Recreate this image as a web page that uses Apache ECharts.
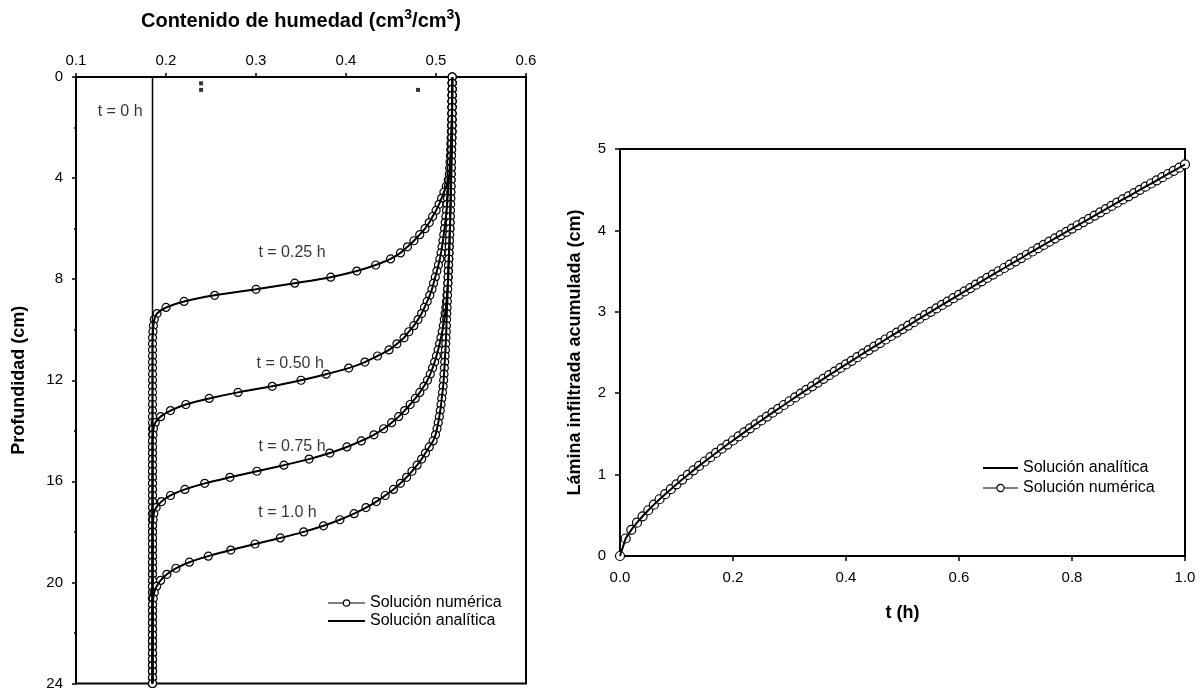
<!DOCTYPE html>
<html>
<head>
<meta charset="utf-8">
<script src="https://cdn.jsdelivr.net/npm/echarts@6/dist/echarts.min.js"></script>
<style>
html, body { margin: 0; padding: 0; background: #fff; }
#chart { width: 1204px; height: 691px; }
</style>
</head>
<body>
<div id="chart"></div>
<script>
// profundidad de los nodos (cm)
const depthCm = [
  0, 0.24, 0.48, 0.72, 0.96, 1.2, 1.44, 1.68, 1.92, 2.16,
  2.4, 2.64, 2.88, 3.12, 3.36, 3.6, 3.84, 4.08, 4.32, 4.56,
  4.8, 5.04, 5.28, 5.52, 5.76, 6, 6.24, 6.48, 6.72, 6.96,
  7.2, 7.44, 7.68, 7.92, 8.16, 8.4, 8.64, 8.88, 9.12, 9.36,
  9.6, 9.84, 10.08, 10.32, 10.56, 10.8, 11.04, 11.28, 11.52, 11.76,
  12, 12.24, 12.48, 12.72, 12.96, 13.2, 13.44, 13.68, 13.92, 14.16,
  14.4, 14.64, 14.88, 15.12, 15.36, 15.6, 15.84, 16.08, 16.32, 16.56,
  16.8, 17.04, 17.28, 17.52, 17.76, 18, 18.24, 18.48, 18.72, 18.96,
  19.2, 19.44, 19.68, 19.92, 20.16, 20.4, 20.64, 20.88, 21.12, 21.36,
  21.6, 21.84, 22.08, 22.32, 22.56, 22.8, 23.04, 23.28, 23.52, 23.76,
  24
];

// contenido de humedad (cm3/cm3) en cada nodo
const thetaT025 = [
  0.518, 0.518, 0.518, 0.518, 0.518, 0.518, 0.518, 0.518, 0.518, 0.518,
  0.5177, 0.5175, 0.5173, 0.5171, 0.5169, 0.5166, 0.5155, 0.5137, 0.5115, 0.5088,
  0.5062, 0.5034, 0.5001, 0.4962, 0.4925, 0.4878, 0.4819, 0.4755, 0.4683, 0.4605,
  0.4495, 0.433, 0.412, 0.383, 0.343, 0.300, 0.254, 0.220, 0.200, 0.190,
  0.187, 0.186, 0.1855, 0.185, 0.185, 0.185, 0.185, 0.185, 0.185, 0.185,
  0.185, 0.185, 0.185, 0.185, 0.185, 0.185, 0.185, 0.185, 0.185, 0.185,
  0.185, 0.185, 0.185, 0.185, 0.185, 0.185, 0.185, 0.185, 0.185, 0.185,
  0.185, 0.185, 0.185, 0.185, 0.185, 0.185, 0.185, 0.185, 0.185, 0.185,
  0.185, 0.185, 0.185, 0.185, 0.185, 0.185, 0.185, 0.185, 0.185, 0.185,
  0.185, 0.185, 0.185, 0.185, 0.185, 0.185, 0.185, 0.185, 0.185, 0.185,
  0.185
];
const thetaT050 = [
  0.518, 0.518, 0.518, 0.5179, 0.5178, 0.5177, 0.5176, 0.5175, 0.5173, 0.5171,
  0.5168, 0.5165, 0.5163, 0.516, 0.5156, 0.5152, 0.5148, 0.5143, 0.5138, 0.5133,
  0.5128, 0.5124, 0.5117, 0.511, 0.5102, 0.5095, 0.5086, 0.5077, 0.5067, 0.5056,
  0.5043, 0.5027, 0.501, 0.4992, 0.4973, 0.4955, 0.4931, 0.4902, 0.4872, 0.484,
  0.48, 0.4754, 0.4698, 0.4645, 0.4566, 0.4478, 0.435, 0.421, 0.403, 0.378,
  0.35, 0.318, 0.28, 0.248, 0.222, 0.205, 0.194, 0.188, 0.186, 0.1855,
  0.185, 0.185, 0.185, 0.185, 0.185, 0.185, 0.185, 0.185, 0.185, 0.185,
  0.185, 0.185, 0.185, 0.185, 0.185, 0.185, 0.185, 0.185, 0.185, 0.185,
  0.185, 0.185, 0.185, 0.185, 0.185, 0.185, 0.185, 0.185, 0.185, 0.185,
  0.185, 0.185, 0.185, 0.185, 0.185, 0.185, 0.185, 0.185, 0.185, 0.185,
  0.185
];
const thetaT075 = [
  0.518, 0.518, 0.518, 0.5179, 0.5179, 0.5178, 0.5178, 0.5177, 0.5176, 0.5175,
  0.5174, 0.5173, 0.5172, 0.5171, 0.517, 0.5169, 0.5168, 0.5167, 0.5165, 0.5163,
  0.5162, 0.5161, 0.5159, 0.5157, 0.5156, 0.5155, 0.5152, 0.515, 0.5148, 0.5145,
  0.5143, 0.514, 0.5138, 0.5136, 0.5132, 0.5127, 0.5122, 0.5116, 0.5109, 0.5101,
  0.5092, 0.5082, 0.5069, 0.5055, 0.504, 0.5024, 0.5005, 0.4985, 0.4962, 0.4936,
  0.4905, 0.4866, 0.482, 0.477, 0.4713, 0.4652, 0.4585, 0.4507, 0.4418, 0.431,
  0.417, 0.401, 0.382, 0.359, 0.331, 0.301, 0.271, 0.243, 0.221, 0.205,
  0.195, 0.189, 0.1865, 0.1857, 0.185, 0.185, 0.185, 0.185, 0.185, 0.185,
  0.185, 0.185, 0.185, 0.185, 0.185, 0.185, 0.185, 0.185, 0.185, 0.185,
  0.185, 0.185, 0.185, 0.185, 0.185, 0.185, 0.185, 0.185, 0.185, 0.185,
  0.185
];
const thetaT100 = [
  0.518, 0.518, 0.518, 0.518, 0.5179, 0.5179, 0.5178, 0.5178, 0.5177, 0.5177,
  0.5176, 0.5175, 0.5174, 0.5173, 0.5172, 0.5171, 0.517, 0.5169, 0.5168, 0.5166,
  0.5165, 0.5163, 0.5161, 0.5159, 0.5157, 0.5155, 0.5152, 0.515, 0.5147, 0.5145,
  0.5142, 0.5139, 0.5136, 0.5134, 0.5132, 0.513, 0.5128, 0.5126, 0.5123, 0.512,
  0.5118, 0.5116, 0.5114, 0.5111, 0.5108, 0.5105, 0.5101, 0.5097, 0.5093, 0.5089,
  0.5085, 0.5079, 0.5072, 0.5064, 0.5056, 0.5047, 0.5037, 0.5025, 0.5011, 0.4994,
  0.4968, 0.4925, 0.4883, 0.484, 0.479, 0.4733, 0.4673, 0.4605, 0.4527, 0.4435,
  0.4337, 0.4222, 0.409, 0.3932, 0.375, 0.353, 0.327, 0.299, 0.272, 0.247,
  0.226, 0.211, 0.201, 0.194, 0.1895, 0.187, 0.1858, 0.185, 0.185, 0.185,
  0.185, 0.185, 0.185, 0.185, 0.185, 0.185, 0.185, 0.185, 0.185, 0.185,
  0.185
];
// condicion inicial t = 0 h
const initialTheta = [0.185, 0.185];
const initialDepth = [0, 24];

// puntos sueltos que aparecen en la figura original
const strayTheta = [0.239, 0.239, 0.48];
const strayDepth = [0.25, 0.51, 0.51];

// lamina infiltrada acumulada
const timeH = [
  0, 0.01, 0.02, 0.03, 0.04, 0.05, 0.06, 0.07, 0.08, 0.09,
  0.1, 0.11, 0.12, 0.13, 0.14, 0.15, 0.16, 0.17, 0.18, 0.19,
  0.2, 0.21, 0.22, 0.23, 0.24, 0.25, 0.26, 0.27, 0.28, 0.29,
  0.3, 0.31, 0.32, 0.33, 0.34, 0.35, 0.36, 0.37, 0.38, 0.39,
  0.4, 0.41, 0.42, 0.43, 0.44, 0.45, 0.46, 0.47, 0.48, 0.49,
  0.5, 0.51, 0.52, 0.53, 0.54, 0.55, 0.56, 0.57, 0.58, 0.59,
  0.6, 0.61, 0.62, 0.63, 0.64, 0.65, 0.66, 0.67, 0.68, 0.69,
  0.7, 0.71, 0.72, 0.73, 0.74, 0.75, 0.76, 0.77, 0.78, 0.79,
  0.8, 0.81, 0.82, 0.83, 0.84, 0.85, 0.86, 0.87, 0.88, 0.89,
  0.9, 0.91, 0.92, 0.93, 0.94, 0.95, 0.96, 0.97, 0.98, 0.99,
  1
];
const laminaCm = [
  0, 0.215, 0.321, 0.409, 0.488, 0.562, 0.631, 0.697, 0.760, 0.821,
  0.881, 0.939, 0.996, 1.052, 1.107, 1.161, 1.214, 1.266, 1.318, 1.369,
  1.419, 1.469, 1.519, 1.568, 1.617, 1.665, 1.713, 1.761, 1.808, 1.855,
  1.901, 1.948, 1.994, 2.040, 2.085, 2.130, 2.176, 2.221, 2.265, 2.310,
  2.354, 2.398, 2.442, 2.486, 2.530, 2.573, 2.616, 2.660, 2.703, 2.745,
  2.788, 2.831, 2.873, 2.916, 2.958, 3.000, 3.042, 3.084, 3.126, 3.167,
  3.209, 3.250, 3.292, 3.333, 3.374, 3.416, 3.457, 3.498, 3.538, 3.579,
  3.620, 3.660, 3.701, 3.741, 3.782, 3.822, 3.862, 3.903, 3.943, 3.983,
  4.023, 4.063, 4.102, 4.142, 4.182, 4.222, 4.261, 4.301, 4.340, 4.380,
  4.419, 4.458, 4.498, 4.537, 4.576, 4.615, 4.654, 4.693, 4.732, 4.771,
  4.810
];

const profileLabels = ['t = 0.25 h', 't = 0.50 h', 't = 0.75 h', 't = 1.0 h'];
const profiles = [thetaT025, thetaT050, thetaT075, thetaT100];

// rotulos de los perfiles (posicion en unidades de los ejes)
const annotations = [
  { text: 't = 0 h', theta: 0.149, depth: 1.38 },
  { text: profileLabels[0], theta: 0.34, depth: 6.96 },
  { text: profileLabels[1], theta: 0.338, depth: 11.34 },
  { text: profileLabels[2], theta: 0.34, depth: 14.62 },
  { text: profileLabels[3], theta: 0.335, depth: 17.23 }
];

const FONT = '"Liberation Sans", Arial, sans-serif';
const NUM = 'Solución numérica';
const ANA = 'Solución analítica';

const pair = (xs, ys) => xs.map((x, i) => [x, ys[i]]);

const axisCommon = {
  type: 'value',
  splitLine: { show: false },
  axisLine: { show: true, lineStyle: { color: '#000', width: 2 } },
  axisTick: { show: true, inside: false, length: 4, lineStyle: { color: '#000', width: 1.5 } },
  axisLabel: { color: '#000', fontSize: 15, fontFamily: FONT },
  nameLocation: 'middle',
  nameTextStyle: { color: '#000', fontSize: 18, fontWeight: 'bold', fontFamily: FONT }
};

const markerStyle = { color: '#fff', borderColor: '#000', borderWidth: 1.2 };

const series = [];

// perfiles de humedad
profiles.forEach((theta) => {
  const data = pair(theta, depthCm);
  series.push({
    name: NUM, type: 'line', xAxisIndex: 0, yAxisIndex: 0, data: data,
    symbol: 'circle', symbolSize: 8, showAllSymbol: true, smooth: 0.3,
    itemStyle: markerStyle,
    lineStyle: { color: '#000', width: 1 }, z: 2
  });
  series.push({
    name: ANA, type: 'line', xAxisIndex: 0, yAxisIndex: 0, data: data,
    symbol: 'none', smooth: 0.3, itemStyle: { color: '#000' },
    lineStyle: { color: '#000', width: 2 }, z: 3
  });
});
series.push({
  type: 'line', xAxisIndex: 0, yAxisIndex: 0, data: pair(initialTheta, initialDepth),
  symbol: 'none', lineStyle: { color: '#000', width: 1.5 }, z: 3
});
series.push({
  type: 'scatter', xAxisIndex: 0, yAxisIndex: 0, data: pair(strayTheta, strayDepth),
  symbol: 'rect', symbolSize: 4, itemStyle: { color: '#000' }, z: 4
});
series.push({
  type: 'scatter', xAxisIndex: 0, yAxisIndex: 0, symbolSize: 0, z: 5,
  data: annotations.map(a => ({ name: a.text, value: [a.theta, a.depth] })),
  label: { show: true, position: 'inside', formatter: p => p.name, color: '#000', fontSize: 16, fontFamily: FONT }
});

// lamina infiltrada
const laminaData = pair(timeH, laminaCm);
series.push({
  name: NUM, type: 'line', xAxisIndex: 1, yAxisIndex: 1, data: laminaData,
  symbol: 'circle', symbolSize: 9, showAllSymbol: true,
  itemStyle: markerStyle,
  lineStyle: { color: '#000', width: 1 }, z: 2
});
series.push({
  name: ANA, type: 'line', xAxisIndex: 1, yAxisIndex: 1, data: laminaData,
  symbol: 'none', itemStyle: { color: '#000' },
  lineStyle: { color: '#000', width: 2 }, z: 3
});

const legendItems = {};
legendItems[NUM] = { name: NUM, lineStyle: { width: 1, color: '#000' }, itemStyle: markerStyle };
legendItems[ANA] = { name: ANA, lineStyle: { width: 2, color: '#000' }, itemStyle: { opacity: 0 } };

const chart = echarts.init(document.getElementById('chart'), null, { renderer: 'canvas' });
chart.setOption({
  animation: false,
  backgroundColor: '#fff',
  grid: [
    { left: 76, top: 77, width: 450, height: 607, show: true, borderColor: '#000', borderWidth: 2, backgroundColor: 'transparent' },
    { left: 620, top: 149, width: 565, height: 407, show: true, borderColor: '#000', borderWidth: 2, backgroundColor: 'transparent' }
  ],
  xAxis: [
    Object.assign({}, axisCommon, {
      gridIndex: 0, position: 'top', min: 0.1, max: 0.6, interval: 0.1,
      axisLabel: Object.assign({}, axisCommon.axisLabel, { margin: 9, formatter: v => v.toFixed(1) }),
      name: '{b|Contenido de humedad (cm}{s|3}{b|/cm}{s|3}{b|)}',
      nameGap: 43,
      nameTextStyle: {
        rich: {
          b: { fontSize: 20, fontWeight: 'bold', fontFamily: FONT, color: '#000', lineHeight: 26 },
          s: { fontSize: 14, fontWeight: 'bold', fontFamily: FONT, color: '#000', verticalAlign: 'top', lineHeight: 14 }
        }
      }
    }),
    Object.assign({}, axisCommon, {
      gridIndex: 1, position: 'bottom', min: 0, max: 1, interval: 0.2,
      axisTick: Object.assign({}, axisCommon.axisTick, { length: 5 }),
      axisLabel: Object.assign({}, axisCommon.axisLabel, { margin: 14, formatter: v => v.toFixed(1) }),
      name: 't (h)', nameGap: 48
    })
  ],
  yAxis: [
    Object.assign({}, axisCommon, {
      gridIndex: 0, inverse: true, min: 0, max: 24, interval: 4,
      minorTick: { show: true, splitNumber: 2, length: 2, lineStyle: { color: '#000', width: 1.5 } },
      axisLabel: Object.assign({}, axisCommon.axisLabel, { margin: 13 }),
      name: 'Profundidad (cm)', nameGap: 48
    }),
    Object.assign({}, axisCommon, {
      gridIndex: 1, min: 0, max: 5, interval: 1,
      axisTick: Object.assign({}, axisCommon.axisTick, { length: 5 }),
      axisLabel: Object.assign({}, axisCommon.axisLabel, { margin: 14 }),
      name: 'Lámina infiltrada acumulada (cm)', nameGap: 36
    })
  ],
  legend: [
    {
      data: [legendItems[NUM], legendItems[ANA]], left: 322, top: 590, orient: 'vertical', selectedMode: false,
      itemWidth: 37, itemHeight: 8, itemGap: 2,
      textStyle: { color: '#000', fontSize: 16, fontFamily: FONT }
    },
    {
      data: [legendItems[ANA], legendItems[NUM]], left: 977, top: 455, orient: 'vertical', selectedMode: false,
      itemWidth: 35, itemHeight: 9, itemGap: 4,
      textStyle: { color: '#000', fontSize: 16, fontFamily: FONT }
    }
  ],
  series: series
});
</script>
</body>
</html>
